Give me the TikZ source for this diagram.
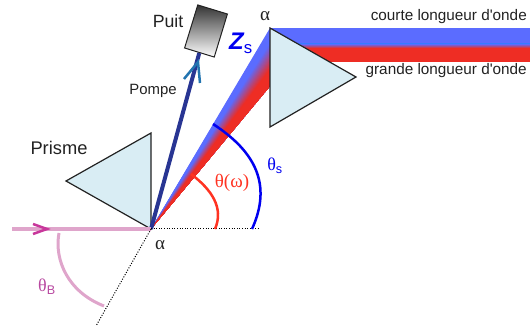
\documentclass[tikz,border=0pt]{standalone}
\usepackage{fontspec}
\setmainfont{Liberation Sans}
\newfontfamily\grec{Liberation Serif}
\usetikzlibrary{calc}
\definecolor{fanblue}{HTML}{5B6CFF}
\definecolor{fanred}{HTML}{EE2D24}
\definecolor{prismfill}{HTML}{D9EDF4}
\definecolor{pompeblue}{HTML}{283593}
\definecolor{pompetip}{HTML}{2374B0}
\definecolor{pinkbeam}{HTML}{DFA5CB}
\definecolor{pinktip}{HTML}{C8379B}
\definecolor{arcred}{HTML}{FF3322}
\definecolor{arcblue}{HTML}{0000F0}
\definecolor{labelpink}{HTML}{B848A0}
\definecolor{textgrey}{HTML}{222222}
\tikzset{
	prism/.style={draw=textgrey,fill=prismfill,line width=1.2pt,line join=miter},
	dotline/.style={black,line width=1pt,dash pattern=on 1pt off 1.6pt},
	txt/.style={text=textgrey,inner sep=0pt},
}
\begin{document}
\begin{tikzpicture}[x=1pt,y=-1pt]
	\useasboundingbox (0,0) rectangle (530,331);
	\coordinate (alphaB) at (151,229);
	\coordinate (prismBtop) at (151,133);
	\coordinate (prismBleft) at (66,181);
	\coordinate (alphaH) at (270,28);
	\coordinate (prismHbot) at (270,127);
	\coordinate (prismHright) at (356,77);
	\coordinate (fanred) at (270,86);
	\coordinate (beamstart) at (12,229);
	\coordinate (dotH) at (258,229);
	\coordinate (dotB) at (96,326);
	\fill [fanblue] (alphaH) rectangle (530,46);
	\fill [fanred] (270,46) rectangle (530,62);
	\shade [top color=fanblue,bottom color=fanred] (270,44) rectangle (530,48);
	\foreach \i in {0,...,40}{
		\pgfmathsetmacro\mix{min(100,max(0,(\i/40-0.25)*220))}
		\fill [fanred!\mix!fanblue] (alphaB)--($(alphaH)!\i/40!(fanred)$)--(fanred)--cycle;
	}
	\draw [prism] (alphaH)--(prismHright)--(prismHbot)--cycle;
	\draw [prism] (prismBtop)--(prismBleft)--(alphaB)--cycle;
	\node [draw=textgrey,line width=1pt,minimum width=31pt,minimum height=45pt,inner sep=0pt,rotate=-17,top color=black!80,bottom color=white] (puit) at (206,31) {};
	\draw [pompeblue,line width=4pt] (alphaB)--(puit.south);
	\draw [pompetip,line width=2.5pt] (184,79)--(198,62)--(200,83);
	\draw [pinkbeam,line width=3.5pt] (beamstart)--(alphaB);
	\draw [pinktip,line width=2.5pt] (33,224)--(47,229)--(33,234);
	\draw [dotline] (alphaB)--(dotH);
	\draw [dotline] (alphaB)--(dotB);
	\draw [arcblue,line width=2.5pt] (252,229) .. controls (272,185) and (256,152) .. (213,124);
	\draw [arcred,line width=2.5pt] (215,229) .. controls (224,208) and (212,190) .. (191,174);
	\draw [pinkbeam,line width=3pt] (59,233) .. controls (54,260) and (68,292) .. (104,306);
	\node [txt,font=\fontsize{17.7}{20}\selectfont] (puitlabel) at (168,21) {Puit};
	\node [txt,font=\fontsize{14.9}{17}\selectfont] (pompelabel) at (153,91) {Pompe};
	\node [txt,font=\fontsize{18.3}{21}\selectfont] (prismelabel) at (59,148) {Prisme};
	\node [txt,font=\fontsize{19}{21}\grec\selectfont] (alphatop) at (265,16) {α};
	\node [txt,font=\fontsize{19}{21}\grec\selectfont] (alphabot) at (160,245) {α};
	\node [txt,anchor=east,font=\fontsize{15.3}{17}\selectfont] (courte) at (527,17) {courte longueur d\textquotesingle onde};
	\node [txt,anchor=east,font=\fontsize{15.3}{17}\selectfont] (grande) at (527,71) {grande longueur d\textquotesingle onde};
	\node [inner sep=0pt,text=arcblue,font=\fontsize{24}{26}\bfseries\itshape\selectfont] (zs) at (241,43) {Z\textsubscript{\normalfont s}};
	\node [inner sep=0pt,text=arcred,font=\fontsize{19}{21}\grec\selectfont] (thetaw) at (232,183) {θ(ω)};
	\node [inner sep=0pt,text=arcblue,font=\fontsize{18}{20}\grec\selectfont] (thetas) at (275,166) {θ\textsubscript{\normalfont s}};
	\node [inner sep=0pt,text=labelpink,font=\fontsize{18}{20}\grec\selectfont] (thetab) at (47,287) {θ\textsubscript{\normalfont B}};
\end{tikzpicture}
\end{document}
